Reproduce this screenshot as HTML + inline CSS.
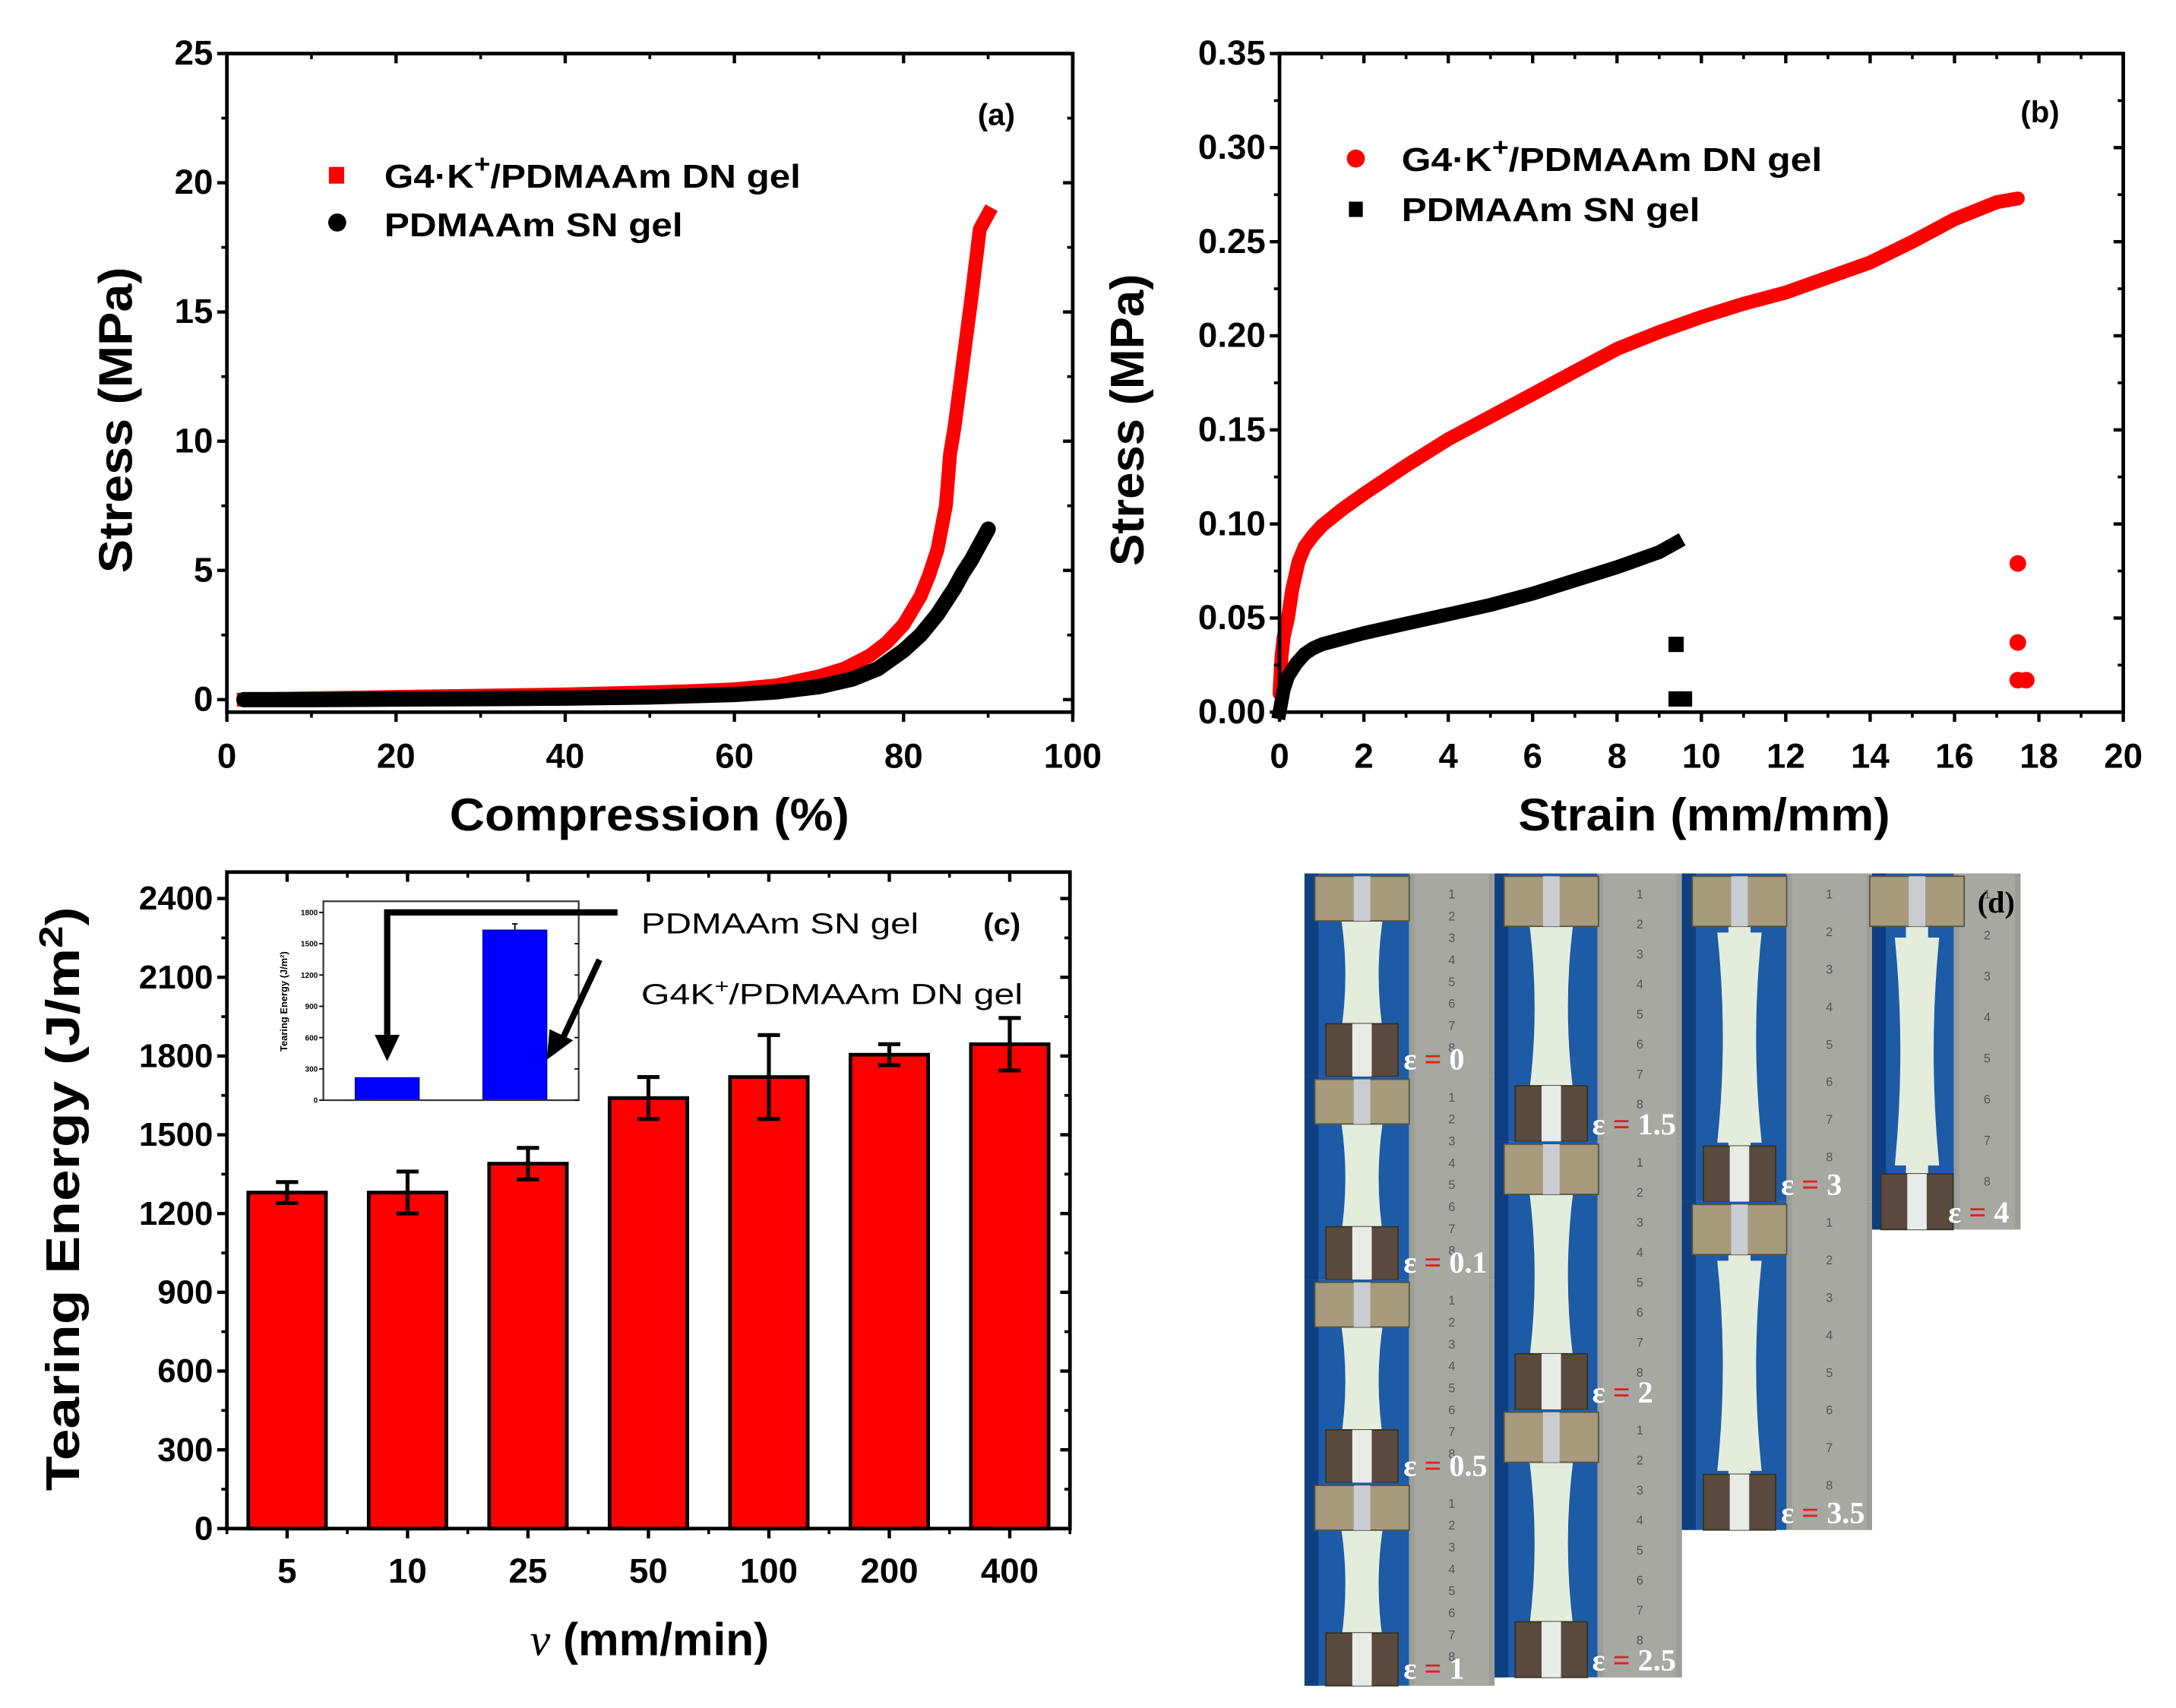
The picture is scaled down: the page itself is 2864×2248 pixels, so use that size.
<!DOCTYPE html>
<html><head><meta charset="utf-8"><style>
html,body{margin:0;padding:0;background:#fff}
svg{display:block}
text{font-family:"Liberation Sans",sans-serif;font-weight:bold;fill:#000}
</style></head><body>
<svg id="fig" width="2864" height="2248" viewBox="0 0 1568 1228" preserveAspectRatio="none" xmlns="http://www.w3.org/2000/svg">
<g id="pa"></g>
<g id="pb"></g>
<g id="pc"></g>
<g id="pd"></g>
</svg>
<script>
// Panel (a) data
const aRedX=[2,10,20,30,40,50,55,60,65,70,73,76,78,80,82,83,84,85,85.5,86,87,88,89,90];
const aRedY=[0,0.05,0.1,0.15,0.2,0.28,0.33,0.4,0.55,0.9,1.2,1.7,2.2,2.9,4.0,4.8,5.8,7.5,9.5,10.5,13,15.5,18.2,18.8];
const aBlkX=[2,10,20,30,40,50,60,65,70,74,77,80,82,84,86,87,88,89,90];
const aBlkY=[0,0,0.02,0.04,0.06,0.1,0.2,0.3,0.5,0.8,1.2,1.9,2.5,3.3,4.3,4.9,5.4,6.0,6.6];
const aYTicks=[0,5,10,15,20,25];
const aXTicks=[0,20,40,60,80,100];
// Panel (b) data
const bRedX=[0,0.05,0.1,0.2,0.3,0.45,0.6,0.8,1,1.5,2,3,4,5,6,7,8,9,10,11,12,13,14,15,16,17,17.5];
const bRedY=[0.01,0.03,0.04,0.05,0.065,0.08,0.088,0.094,0.099,0.108,0.116,0.131,0.145,0.157,0.169,0.181,0.193,0.202,0.21,0.217,0.223,0.231,0.239,0.25,0.262,0.271,0.273];
const bRedLooseX=[17.5,17.5,17.5,17.7];
const bRedLooseY=[0.079,0.037,0.017,0.017];
const bBlkX=[0,0.1,0.2,0.4,0.6,0.8,1,1.5,2,3,4,5,6,7,8,9,9.4];
const bBlkY=[0,0.012,0.019,0.026,0.031,0.034,0.036,0.039,0.042,0.047,0.052,0.057,0.063,0.07,0.077,0.085,0.09];
const bBlkLooseX=[9.4,9.4,9.6];
const bBlkLooseY=[0.036,0.007,0.007];
const bYTicks=[0,0.05,0.10,0.15,0.20,0.25,0.30,0.35];
const bYLabels=["0.00","0.05","0.10","0.15","0.20","0.25","0.30","0.35"];
const bXTicks=[0,2,4,6,8,10,12,14,16,18,20];
// Panel (c) data
const cCats=["5","10","25","50","100","200","400"];
const cVals=[1280,1280,1390,1640,1720,1805,1845];
const cErr=[40,80,60,80,160,40,100];
const cYTicks=[0,300,600,900,1200,1500,1800,2100,2400];
const insetCats=["SN","DN"];
const insetVals=[215,1630];
const insetErr=[0,60];
const insetYTicks=[0,300,600,900,1200,1500,1800];

const NS="http://www.w3.org/2000/svg";
function el(parent,tag,attrs,txt){const e=document.createElementNS(NS,tag);for(const k in attrs)e.setAttribute(k,attrs[k]);if(txt!==undefined)e.textContent=txt;parent.appendChild(e);return e;}
function lin(d0,d1,r0,r1){return v=>r0+(v-d0)/(d1-d0)*(r1-r0);}

function frame(g,L,R,T,B,name){
  const r=el(g,'rect',{x:L,y:T,width:R-L,height:B-T,fill:'none',stroke:'#000','stroke-width':2.6});
  
  
}
function yAxisTicks(g,L,R,sy,ticks,labels,minorStep,fs){
  ticks.forEach((t,i)=>{
    const y=sy(t);
    el(g,'line',{x1:L-7,x2:L,y1:y,y2:y,stroke:'#000','stroke-width':2.4});
    el(g,'line',{x1:R-7,x2:R,y1:y,y2:y,stroke:'#000','stroke-width':2.4});
    const tx=el(g,'text',{x:L-10,y:y+8,'font-size':fs,'text-anchor':'end'},labels[i]);
    
    
    if(i<ticks.length-1){const m=sy(t+minorStep);
      el(g,'line',{x1:L-4,x2:L,y1:m,y2:m,stroke:'#000','stroke-width':2});
      el(g,'line',{x1:R-4,x2:R,y1:m,y2:m,stroke:'#000','stroke-width':2});}
  });
}
function xAxisTicks(g,T,B,sx,ticks,minorStep,fs,ly){
  ticks.forEach((t,i)=>{
    const x=sx(t);
    el(g,'line',{x1:x,x2:x,y1:B,y2:B+7,stroke:'#000','stroke-width':2.4});
    el(g,'line',{x1:x,x2:x,y1:T,y2:T+7,stroke:'#000','stroke-width':2.4});
    const tx=el(g,'text',{x:x,y:ly,'font-size':fs,'text-anchor':'middle'},String(t));
    
    
    if(i<ticks.length-1){const m=sx(t+minorStep);
      el(g,'line',{x1:m,x2:m,y1:B,y2:B+4,stroke:'#000','stroke-width':2});
      el(g,'line',{x1:m,x2:m,y1:T,y2:T+4,stroke:'#000','stroke-width':2});}
  });
}
function curve(g,xs,ys,sx,sy,color,w,cap,name){
  const pts=xs.map((x,i)=>sx(x).toFixed(1)+','+sy(ys[i]).toFixed(1)).join(' ');
  const p=el(g,'polyline',{points:pts,fill:'none',stroke:color,'stroke-width':w,'stroke-linejoin':'round','stroke-linecap':cap});
  
  
}
function vtitle(g,x,y,txt,fs,len,name){
  const t=el(g,'text',{x:0,y:0,'font-size':fs,'text-anchor':'middle',transform:`translate(${x},${y}) rotate(-90)`,textLength:len,lengthAdjust:'spacingAndGlyphs'},txt);
  
  
  return t;
}
function legendText(g,x,y,len,name,sup){
  const t=el(g,'text',{x:x,y:y,'font-size':24,textLength:len,lengthAdjust:'spacingAndGlyphs'});
  
  
  if(sup){
    el(t,'tspan',{},'G4·K');
    el(t,'tspan',{dy:-11,'font-size':18},'+');
    el(t,'tspan',{dy:11},'/PDMAAm DN gel');
  } else t.textContent='PDMAAm SN gel';
}

// ---------- Panel (a)
(function(){
  const g=document.getElementById('pa');
  const L=163.5,R=773,T=38.5,B=512;
  const sx=lin(0,100,L,R), sy=lin(0,25,503,38.5);
  curve(g,aRedX,aRedY,sx,sy,'#f00',10,'square','series-dn-gel');
  curve(g,aBlkX,aBlkY,sx,sy,'#000',11,'round','series-sn-gel');
  frame(g,L,R,T,B,'plot-frame-a');
  yAxisTicks(g,L,R,sy,aYTicks,aYTicks.map(String),2.5,25);
  xAxisTicks(g,T,B,sx,aXTicks,10,25,552);
  const xt=el(g,'text',{x:468,y:597,'font-size':33,'text-anchor':'middle',textLength:288,lengthAdjust:'spacingAndGlyphs'},'Compression (%)');
  
  
  vtitle(g,95,302,'Stress (MPa)',34,220,'y-axis-title-a');
  const lt=el(g,'text',{x:718,y:90,'font-size':22,'text-anchor':'middle'},'(a)');
  
  
  const m1=el(g,'rect',{x:237,y:120,width:11,height:12,fill:'#f00'});
  
  
  legendText(g,277,135,300,'legend-entry-dn',true);
  const m2=el(g,'circle',{cx:243,cy:160,r:6.5,fill:'#000'});
  
  
  legendText(g,277,170,215,'legend-entry-sn',false);
})();

// ---------- Panel (b)
(function(){
  const g=document.getElementById('pb');
  const L=922,R=1530,T=38.5,B=512;
  const sx=lin(0,20,L,R), sy=lin(0,0.35,512,38.5);
  curve(g,bRedX,bRedY,sx,sy,'#f00',10,'round','series-dn-gel');
  curve(g,bBlkX,bBlkY,sx,sy,'#000',10,'square','series-sn-gel');
  bRedLooseX.forEach((x,i)=>{const c=el(g,'circle',{cx:sx(x),cy:sy(bRedLooseY[i]),r:6,fill:'#f00'});
    
    });
  bBlkLooseX.forEach((x,i)=>{const c=el(g,'rect',{x:sx(x)-5.5,y:sy(bBlkLooseY[i])-5.5,width:11,height:11,fill:'#000'});
    
    });
  frame(g,L,R,T,B,'plot-frame-b');
  yAxisTicks(g,L,R,sy,bYTicks,bYLabels,0.025,25);
  xAxisTicks(g,T,B,sx,bXTicks,1,25,552);
  const xt=el(g,'text',{x:1228,y:597,'font-size':33,'text-anchor':'middle',textLength:268,lengthAdjust:'spacingAndGlyphs'},'Strain (mm/mm)');
  
  
  vtitle(g,824,302,'Stress (MPa)',34,210,'y-axis-title-b');
  const lt=el(g,'text',{x:1470,y:88,'font-size':22,'text-anchor':'middle'},'(b)');
  
  
  const m1=el(g,'circle',{cx:977,cy:114,r:6.5,fill:'#f00'});
  
  
  legendText(g,1010,123,303,'legend-entry-dn',true);
  const m2=el(g,'rect',{x:972,y:145,width:10,height:11,fill:'#000'});
  
  
  legendText(g,1010,159,215,'legend-entry-sn',false);
})();

// ---------- Panel (c)
(function(){
  const g=document.getElementById('pc');
  const L=163.5,R=771,T=627,B=1099;
  const sy=lin(0,2400,1099,646);
  const band=(R-L)/7;
  const sx=i=>L+band*(i+0.5);
  const bw=56;
  cVals.forEach((v,i)=>{
    const b=el(g,'rect',{x:sx(i)-bw/2,y:sy(v),width:bw,height:sy(0)-sy(v),fill:'#f00',stroke:'#000','stroke-width':2.6});
    
    
    const e=el(g,'path',{d:`M${sx(i)},${sy(v+cErr[i])}V${sy(v-cErr[i])}M${sx(i)-8},${sy(v+cErr[i])}H${sx(i)+8}M${sx(i)-8},${sy(v-cErr[i])}H${sx(i)+8}`,stroke:'#000','stroke-width':2.8,fill:'none'});
    
    
  });
  frame(g,L,R,T,B,'plot-frame-c');
  cYTicks.forEach((t,i)=>{
    const y=sy(t);
    el(g,'line',{x1:L-7,x2:L,y1:y,y2:y,stroke:'#000','stroke-width':2.4});
    el(g,'line',{x1:R-7,x2:R,y1:y,y2:y,stroke:'#000','stroke-width':2.4});
    const tx=el(g,'text',{x:L-10,y:y+8,'font-size':24,'text-anchor':'end'},String(t));
    
    
    if(i<cYTicks.length-1){const m=sy(t+150);
      el(g,'line',{x1:L-4,x2:L,y1:m,y2:m,stroke:'#000','stroke-width':2});
      el(g,'line',{x1:R-4,x2:R,y1:m,y2:m,stroke:'#000','stroke-width':2});}
  });
  cCats.forEach((c,i)=>{
    const x=sx(i);
    el(g,'line',{x1:x,x2:x,y1:B,y2:B+7,stroke:'#000','stroke-width':2.4});
    el(g,'line',{x1:x,x2:x,y1:T,y2:T+7,stroke:'#000','stroke-width':2.4});
    el(g,'line',{x1:x+band/2,x2:x+band/2,y1:B,y2:B+4,stroke:'#000','stroke-width':2});
    el(g,'line',{x1:x+band/2,x2:x+band/2,y1:T,y2:T+4,stroke:'#000','stroke-width':2});
    const tx=el(g,'text',{x:x,y:1138,'font-size':25,'text-anchor':'middle'},c);
    
    
  });
  el(g,'line',{x1:L,x2:L,y1:B,y2:B+4,stroke:'#000','stroke-width':2});
  const xt=el(g,'text',{x:468,y:1190,'font-size':33,'text-anchor':'middle'});
  
  
  el(xt,'tspan',{'font-family':'Liberation Serif, serif','font-style':'italic','font-weight':'normal'},'v');
  el(xt,'tspan',{},' (mm/min)');
  const yt=vtitle(g,57,862,'',34,420,'y-axis-title-c');
  yt.textContent='';
  el(yt,'tspan',{},'Tearing Energy (J/m');
  el(yt,'tspan',{dy:-12,'font-size':24},'2');
  el(yt,'tspan',{dy:12},')');
  const lt=el(g,'text',{x:722,y:672,'font-size':22,'text-anchor':'middle'},'(c)');
  
  
  // inset
  const iL=233,iR=417,iT=648,iB=791;
  const isy=lin(0,1800,iB,656);
  const ix=[279,371];
  insetVals.forEach((v,i)=>{
    const b=el(g,'rect',{x:ix[i]-23,y:isy(v),width:46,height:iB-isy(v),fill:'#00f',stroke:'#0000aa','stroke-width':0.8});
    
    
    if(insetErr[i]){el(g,'path',{d:`M${ix[i]},${isy(v+insetErr[i])}V${isy(v)}M${ix[i]-2},${isy(v+insetErr[i])}H${ix[i]+2}`,stroke:'#000','stroke-width':1});}
  });
  const ib=el(g,'rect',{x:iL,y:iT,width:iR-iL,height:iB-iT,fill:'none',stroke:'#333','stroke-width':1.2});
  
  
  insetYTicks.forEach(t=>{const y=isy(t);
    el(g,'line',{x1:iL-3,x2:iL,y1:y,y2:y,stroke:'#000','stroke-width':1});
    el(g,'line',{x1:iR-3,x2:iR,y1:y,y2:y,stroke:'#000','stroke-width':1});
    const tx=el(g,'text',{x:iL-4,y:y+2,'font-size':5.5,'text-anchor':'end'},String(t));
    
    
  });
  vtitle(g,207,720,'Tearing Energy (J/m²)',7,72,'inset-y-axis-title');
  const a1=el(g,'path',{d:'M445,656H279V748',fill:'none',stroke:'#000','stroke-width':4.5});
  
  
  el(g,'path',{d:'M270,744L288,744L279,763Z',fill:'#000'});
  const a2=el(g,'path',{d:'M432,690L403,752',fill:'none',stroke:'#000','stroke-width':4.5});
  
  
  el(g,'path',{d:'M394,762L396,740L413,748Z',fill:'#000'});
  const t1=el(g,'text',{x:462,y:671,'font-size':21,'font-weight':'normal',textLength:200,lengthAdjust:'spacingAndGlyphs',style:'font-weight:normal'},'PDMAAm SN gel');
  
  
  const t2=el(g,'text',{x:462,y:722,'font-size':21,textLength:275,lengthAdjust:'spacingAndGlyphs',style:'font-weight:normal'});
  
  
  el(t2,'tspan',{},'G4K');
  el(t2,'tspan',{dy:-8,'font-size':14},'+');
  el(t2,'tspan',{dy:8},'/PDMAAm DN gel');
})();

// ---------- Panel (d) photo collage (schematic)
(function(){
  const g=document.getElementById('pd');
  const cols=[
    {x0:940,x1:1077,y0:628,y1:1212,labels:['0','0.1','0.5','1']},
    {x0:1077,x1:1212,y0:628,y1:1206,labels:['1.5','2','2.5']},
    {x0:1212,x1:1349,y0:628,y1:1100,labels:['3','3.5']},
    {x0:1349,x1:1456,y0:628,y1:884,labels:['4']}
  ];
  cols.forEach((c,ci)=>{
    const n=c.labels.length, h=(c.y1-c.y0)/n, w=c.x1-c.x0;
    const rx=c.x0+w*0.55;
    c.labels.forEach((lab,k)=>{
      const y0=c.y0+h*k;
      const fr=el(g,'g',{});
      
      
      el(fr,'rect',{x:c.x0,y:y0,width:rx-c.x0,height:h,fill:'#1d5ba6'});
      el(fr,'rect',{x:c.x0,y:y0,width:10,height:h,fill:'#0f3f80'});
      el(fr,'rect',{x:rx,y:y0,width:c.x1-rx,height:h,fill:'#9c9d98'});
      el(fr,'rect',{x:rx+4,y:y0,width:c.x1-rx-8,height:h,fill:'#a7a8a2'});
      for(let t=0;t<8;t++){el(fr,'text',{x:rx+(c.x1-rx)*0.5,y:y0+18+t*(h-20)/8,'font-size':9,'text-anchor':'middle',style:'fill:#555;font-weight:normal'},String((t%9)+1));}
      const cx=c.x0+(rx-c.x0)*0.55;
      // sample
      el(fr,'path',{d:`M${cx-16},${y0+h*0.18} Q${cx-8},${y0+h*0.5} ${cx-16},${y0+h*0.82} L${cx+16},${y0+h*0.82} Q${cx+8},${y0+h*0.5} ${cx+16},${y0+h*0.18}Z`,fill:'#e4ecdc'});
      el(fr,'rect',{x:cx-8,y:y0+h*0.1,width:16,height:h*0.8,fill:'#e4ecdc'});
      // clamps
      el(fr,'rect',{x:cx-34,y:y0+2,width:68,height:Math.min(36,h*0.22),fill:'#a89a7c',stroke:'#554',"stroke-width":1});
      el(fr,'rect',{x:cx-6,y:y0+2,width:12,height:Math.min(36,h*0.22),fill:'#c9ccd0'});
      el(fr,'rect',{x:cx-26,y:y0+h-Math.min(40,h*0.26),width:52,height:Math.min(40,h*0.26),fill:'#5a4a3e',stroke:'#332',"stroke-width":1});
      el(fr,'rect',{x:cx-7,y:y0+h-Math.min(40,h*0.26),width:14,height:Math.min(40,h*0.26),fill:'#e8ece8'});
      const lt=el(fr,'text',{x:rx-4,y:y0+h-5,'font-size':22,style:'font-family:Liberation Serif,serif;fill:#fff'});
      
      
      el(lt,'tspan',{},'ε ');
      el(lt,'tspan',{style:'fill:#e02020'},'=');
      el(lt,'tspan',{},' '+lab);
    });
  });
  const dl=el(g,'text',{x:1425,y:656,'font-size':22,style:'font-family:Liberation Serif,serif'},'(d)');
  
  
})();
</script>
</body></html>
